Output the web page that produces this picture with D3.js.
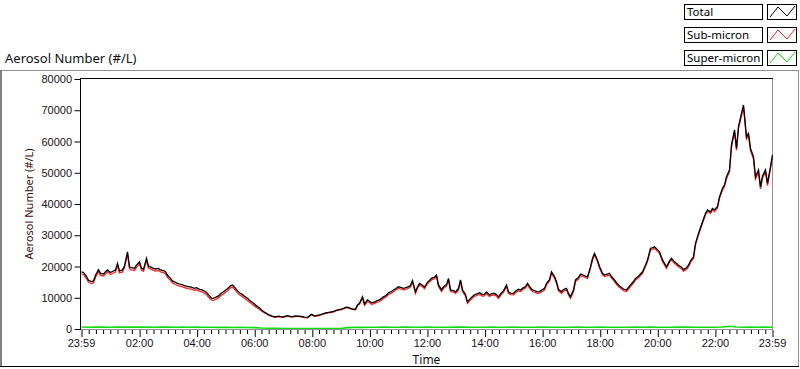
<!DOCTYPE html>
<html>
<head>
<meta charset="utf-8">
<script src="https://cdn.jsdelivr.net/npm/d3@7/dist/d3.min.js"></script>
<style>
  html, body { margin: 0; padding: 0; background: #fff; }
  svg { display: block; font-family: "Noto Sans", "Open Sans", sans-serif; }
  .axis text { font-size: 11px; fill: #1a1020; }
  .axis .domain { display: none; }
  .axis line { stroke: #000; }
</style>
</head>
<body>
<div id="chart"></div>
<script>
// 5-minute samples from 23:59 to 23:59 next day
var totalStep = 5
var total = [
  18300, 18100, 16800, 15600, 15200, 15400, 17200, 19000, 17800, 17600,
  18300, 18900, 18100, 18400, 18900, 21000, 18600, 18900, 20200, 24700,
  19900, 19600, 19400, 20400, 21500, 19400, 19100, 22600, 20100, 19700,
  19400, 19200, 19400, 18900, 18700, 18300, 17200, 16200, 15400, 14900,
  14600, 14400, 14100, 13900, 13600, 13500, 13400, 13000, 13200, 12700,
  12600, 12300, 11700, 10900, 9900, 9800, 10100, 10600, 11300, 11900,
  12400, 12900, 13800, 14100, 13000, 12200, 11600, 11000, 10500, 9800,
  9200, 8700, 8000, 7400, 6700, 6100, 5600, 5000, 4600, 4200,
  4000, 3900, 4100, 3950, 3900, 4100, 4300, 4000, 3950, 4200,
  4150, 4100, 3950, 3800, 3700, 4200, 4700, 4200, 4300, 4500,
  4700, 4900, 5200, 5300, 5500, 5600, 5900, 6200, 6300, 6600,
  6900, 7000, 6600, 6400, 6300, 7700, 8200, 10300, 8000, 9300,
  8900, 8400, 8600, 9000, 9300, 9800, 10300, 10800, 11600, 12000,
  12500, 12900, 13500, 13300, 13000, 13200, 13400, 13900, 15500, 11900,
  13500, 14600, 14000, 13400, 15000, 15500, 16200, 16600, 17300, 14100,
  12500, 13500, 14200, 16200, 12500, 12300, 11900, 13000, 15700, 12500,
  11000, 8700, 9800, 10400, 10900, 11300, 11600, 11000, 11200, 11800,
  10900, 11300, 11400, 11000, 10300, 11600, 12200, 14100, 11900, 11500,
  11400, 12100, 12700, 12500, 13000, 13600, 14600, 13200, 12500, 12300,
  11900, 11950, 12600, 13000, 14600, 15800, 18300, 16800, 15100, 12700,
  11900, 12600, 13000, 11400, 10300, 12500, 15700, 16500, 17600, 17300,
  16900, 16700, 19900, 22600, 24200, 22000, 20000, 17800, 17300, 17500,
  17800, 16800, 15700, 14800, 14100, 13300, 12800, 12500, 13300, 14100,
  15200, 16200, 16900, 17600, 18300, 20500, 22100, 25800, 26000, 26300,
  25400, 24700, 22100, 21000, 19900, 21800, 22600, 21500, 21000, 20400,
  19800, 19000, 19600, 20400, 21800, 23100, 27400, 30600, 32500, 34300,
  37000, 38100, 37500, 38600, 38100, 39200, 42300, 45000, 46100, 48700,
  50900, 58900, 63700, 57800, 64800, 69000, 71700, 61500, 62600, 57800,
  55100, 48700, 50900, 45500, 49000, 50900, 46600, 52000, 55700
]

var subStep = 5
var subMicron = [
  17650, 17450, 16150, 14950, 14550, 14750, 16550, 18350, 17150, 16950,
  17650, 18250, 17450, 17750, 18250, 20350, 17950, 18250, 19550, 24050,
  19250, 18950, 18750, 19750, 20850, 18750, 18450, 21950, 19450, 19050,
  18750, 18550, 18750, 18250, 18050, 17650, 16550, 15550, 14750, 14250,
  13950, 13750, 13450, 13250, 12950, 12850, 12750, 12350, 12550, 12050,
  11950, 11650, 11050, 10250, 9250, 9150, 9450, 9950, 10650, 11250,
  11750, 12250, 13150, 13450, 12350, 11550, 10950, 10350, 9850, 9150,
  8550, 8050, 7400, 6900, 6300, 5800, 5350, 4800, 4420, 4030,
  3850, 3760, 3960, 3810, 3760, 3960, 4160, 3860, 3810, 4060,
  4010, 3960, 3810, 3660, 3560, 4060, 4560, 4060, 4160, 4360,
  4560, 4760, 5060, 5160, 5360, 5460, 5760, 6060, 6160, 6460,
  6760, 6860, 6460, 6260, 6160, 7550, 8000, 9900, 7600, 8800,
  8400, 7900, 8100, 8500, 8800, 9300, 9800, 10300, 11100, 11500,
  12000, 12400, 13000, 12800, 12500, 12700, 12900, 13400, 15000, 11400,
  13000, 14100, 13500, 12900, 14500, 15000, 15700, 16100, 16800, 13600,
  12000, 13000, 13700, 15700, 12000, 11800, 11400, 12500, 15200, 12000,
  10500, 8200, 9300, 9900, 10400, 10800, 11100, 10500, 10700, 11300,
  10400, 10800, 10900, 10500, 9800, 11100, 11700, 13600, 11400, 11000,
  10900, 11600, 12200, 12000, 12500, 13100, 14100, 12700, 12000, 11800,
  11400, 11450, 12100, 12500, 14100, 15300, 17800, 16300, 14600, 12200,
  11400, 12100, 12500, 10900, 9800, 12000, 15200, 16000, 17100, 16800,
  16400, 16200, 19400, 22100, 23700, 21500, 19500, 17300, 16800, 17000,
  17300, 16300, 15200, 14300, 13600, 12800, 12300, 12000, 12800, 13600,
  14700, 15700, 16400, 17100, 17800, 20000, 21600, 25300, 25500, 25800,
  24900, 24200, 21600, 20500, 19400, 21300, 22100, 21000, 20500, 19900,
  19300, 18500, 19100, 19900, 21300, 22600, 26900, 30100, 32000, 33800,
  36500, 37600, 37000, 38100, 37600, 38700, 41800, 44500, 45600, 48100,
  50300, 58300, 63100, 57200, 64200, 68300, 71000, 60800, 61900, 57100,
  54400, 48000, 50200, 44800, 48300, 50200, 45900, 51300, 55000
]

// 15-minute samples
var superStep = 15
var superMicron = [
  620, 580, 650, 600, 560, 640, 610, 590, 630, 600,
  570, 620, 600, 580, 610, 560, 590, 540, 570, 520,
  550, 500, 520, 480, 450, 300, 250, 200, 180, 150,
  170, 120, 150, 140, 160, 130, 170, 450, 560, 520,
  580, 550, 600, 560, 540, 590, 570, 550, 600, 580,
  560, 540, 590, 610, 570, 550, 580, 600, 560, 550,
  590, 570, 540, 580, 600, 560, 550, 580, 570, 590,
  550, 560, 600, 580, 540, 570, 560, 590, 550, 600,
  580, 560, 570, 590, 600, 560, 580, 570, 550, 620,
  880, 640, 560, 590, 570, 600, 580
]

var yTicks = [0, 10000, 20000, 30000, 40000, 50000, 60000, 70000, 80000]
var xTickLabels = ["23:59", "02:00", "04:00", "06:00", "08:00", "10:00", "12:00",
  "14:00", "16:00", "18:00", "20:00", "22:00", "23:59"]
var legendNames = ["Total", "Sub-micron", "Super-micron"]
var legendColors = ["#000000", "#ff2020", "#10dd10"]

var width = 800, height = 369
var plot = { left: 81, top: 79, right: 772, bottom: 329 }
var t0 = new Date(2000, 0, 1, 23, 59)
var t1 = new Date(2000, 0, 2, 23, 59)

var svg = d3.select("#chart").append("svg")
  .attr("width", width)
  .attr("height", height)

var x = d3.scaleTime().domain([t0, t1]).range([plot.left, plot.right])
var y = d3.scaleLinear().domain([0, 80000]).range([plot.bottom, plot.top])

var toSeries = function(values, step) {
  return values.map(function(v, i) {
    return { t: new Date(t0.getTime() + i * step * 60000), v: v }
  })
}

// outer frame
svg.append("line").attr("x1", 0).attr("y1", 70.5).attr("x2", 799).attr("y2", 70.5)
  .style("stroke", "#909090")
svg.append("line").attr("x1", 1).attr("y1", 70).attr("x2", 1).attr("y2", 367)
  .style("stroke", "#808080").style("stroke-width", 2)
svg.append("line").attr("x1", 798.5).attr("y1", 70).attr("x2", 798.5).attr("y2", 367)
  .style("stroke", "#909090")
svg.append("line").attr("x1", 0).attr("y1", 366.5).attr("x2", 799).attr("y2", 366.5)
  .style("stroke", "#000")

svg.append("text")
  .attr("x", 5).attr("y", 63)
  .style("font-size", "13px").style("fill", "#101010")
  .text("Aerosol Number (#/L)")

// plot borders
svg.append("line").attr("x1", plot.left).attr("y1", plot.bottom + 0.5)
  .attr("x2", plot.right + 1).attr("y2", plot.bottom + 0.5).style("stroke", "#909090")
svg.append("line").attr("x1", plot.right + 0.5).attr("y1", plot.top)
  .attr("x2", plot.right + 0.5).attr("y2", plot.bottom + 1).style("stroke", "#909090")
svg.append("line").attr("x1", plot.left - 0.5).attr("y1", plot.top - 0.5)
  .attr("x2", plot.right + 1).attr("y2", plot.top - 0.5).style("stroke", "#000")
svg.append("line").attr("x1", plot.left - 0.5).attr("y1", plot.top - 1)
  .attr("x2", plot.left - 0.5).attr("y2", plot.bottom + 1).style("stroke", "#000")

svg.append("clipPath").attr("id", "clip")
  .append("rect").attr("x", plot.left).attr("y", plot.top - 1)
  .attr("width", plot.right - plot.left + 1).attr("height", plot.bottom - plot.top + 1)

var line = d3.line()
  .x(function(d) { return Math.round(x(d.t)) + 0.5 })
  .y(function(d) { return y(d.v) })

var dataG = svg.append("g").attr("clip-path", "url(#clip)")
var series = [
  { data: toSeries(superMicron, superStep), color: legendColors[2], w: 1.6 },
  { data: toSeries(subMicron, subStep), color: legendColors[1], w: 1.3 },
  { data: toSeries(total, totalStep), color: legendColors[0], w: 1.3 }
]
series.forEach(function(s) {
  dataG.append("path")
    .datum(s.data)
    .attr("d", line)
    .style("fill", "none")
    .style("stroke", s.color)
    .style("stroke-width", s.w)
    .style("stroke-linejoin", "miter")
})

// Y axis
svg.append("g")
  .attr("class", "axis")
  .attr("transform", "translate(" + (plot.left - 1) + ",0)")
  .call(d3.axisLeft(y).tickValues(yTicks).tickSize(6).tickPadding(2).tickFormat(d3.format("d")))

// X axis, major + minor ticks
var majorTimes = xTickLabels.map(function(lbl, i) {
  if (i === 0) return t0
  if (i === xTickLabels.length - 1) return t1
  return new Date(2000, 0, 2, +lbl.slice(0, 2), 0)
})
var minorTimes = []
for (var k = 1; k < 96; k++) {
  if (k % 8 !== 0) minorTimes.push(new Date(t0.getTime() + k * 15 * 60000))
}
svg.append("g")
  .attr("class", "axis")
  .attr("transform", "translate(0," + (plot.bottom + 1) + ")")
  .call(d3.axisBottom(x).tickValues(minorTimes).tickSize(4).tickFormat(""))
svg.append("g")
  .attr("class", "axis")
  .attr("transform", "translate(0," + (plot.bottom + 1) + ")")
  .call(d3.axisBottom(x).tickValues(majorTimes).tickSize(7).tickPadding(2)
    .tickFormat(function(d, i) { return xTickLabels[i] }))

svg.selectAll(".axis .tick line").attr("transform", "translate(0.5,0)")

svg.append("text")
  .attr("x", (plot.left + plot.right) / 2).attr("y", 364)
  .attr("text-anchor", "middle")
  .style("font-size", "12px").style("fill", "#101010")
  .text("Time")

svg.append("text")
  .attr("transform", "translate(33," + ((plot.top + plot.bottom) / 2) + ") rotate(-90)")
  .attr("text-anchor", "middle")
  .style("font-size", "11px").style("fill", "#3a0c12")
  .text("Aerosol Number (#/L)")

// legend
var legend = svg.append("g")
legendNames.forEach(function(name, i) {
  var top = 4 + i * 23
  legend.append("rect")
    .attr("x", 684.5).attr("y", top + 0.5).attr("width", 78).attr("height", 15)
    .style("fill", "#fff").style("stroke", "#000")
  legend.append("text")
    .attr("x", 687).attr("y", top + 12)
    .style("font-size", "11.5px").style("fill", "#000")
    .text(name)
  legend.append("rect")
    .attr("x", 767.5).attr("y", top + 0.5).attr("width", 29).attr("height", 15)
    .style("fill", "#fff").style("stroke", "#000")
  legend.append("polyline")
    .attr("points", [[770, top + 13], [778, top + 3], [787, top + 12], [795, top + 2]].join(" "))
    .style("fill", "none").style("stroke", legendColors[i])
})
</script>
</body>
</html>
